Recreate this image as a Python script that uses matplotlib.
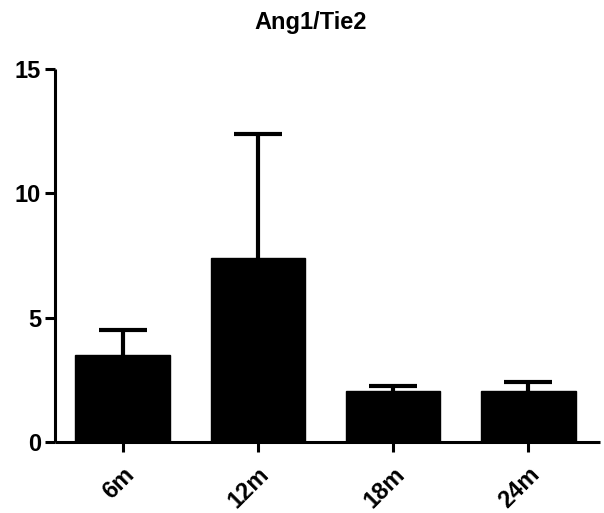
import matplotlib.pyplot as plt
import numpy as np

plt.rcParams["font.family"] = ["Liberation Sans", "DejaVu Sans"]
plt.rcParams["font.weight"] = "bold"

# ---------------------------------------------------------------------------
# Data
# ---------------------------------------------------------------------------
groups = ["6m", "12m", "18m", "24m"]
means = [3.5, 7.4, 2.05, 2.05]
sem = [1.0, 5.0, 0.2, 0.35]
y_ticks = [0, 5, 10, 15]

fig = plt.figure(figsize=(6.04, 5.13), dpi=100)
ax = fig.add_axes([55 / 604, 71 / 513, 545 / 604, 373 / 513])

x = np.arange(len(groups))
# symmetric bars drawn behind the black columns: only the upper half shows
ax.errorbar(
    x, means, yerr=sem,
    fmt="none", ecolor="black", elinewidth=3, capsize=17, capthick=3, zorder=1,
)
ax.bar(x, means, width=0.7, color="black", edgecolor="black", linewidth=1, zorder=2)

ax.set_xlim(-0.5, 3.53)
ax.set_ylim(0, 15)
ax.set_yticks(y_ticks)
ax.set_xticks(x)
ax.set_xticklabels(groups, rotation=45, ha="right", rotation_mode="anchor")

for side in ("top", "right"):
    ax.spines[side].set_visible(False)
for side in ("left", "bottom"):
    ax.spines[side].set_linewidth(2.2)
    ax.spines[side].set_capstyle("butt")

ax.tick_params(axis="both", width=2.2, length=7, labelsize=17, pad=3)
ax.tick_params(axis="x", pad=8)

fig.text(311 / 604, 1 - 22 / 513, "Ang1/Tie2", ha="center", va="center",
         fontsize=17, fontweight="bold")

fig.savefig("out.png", dpi=100)
